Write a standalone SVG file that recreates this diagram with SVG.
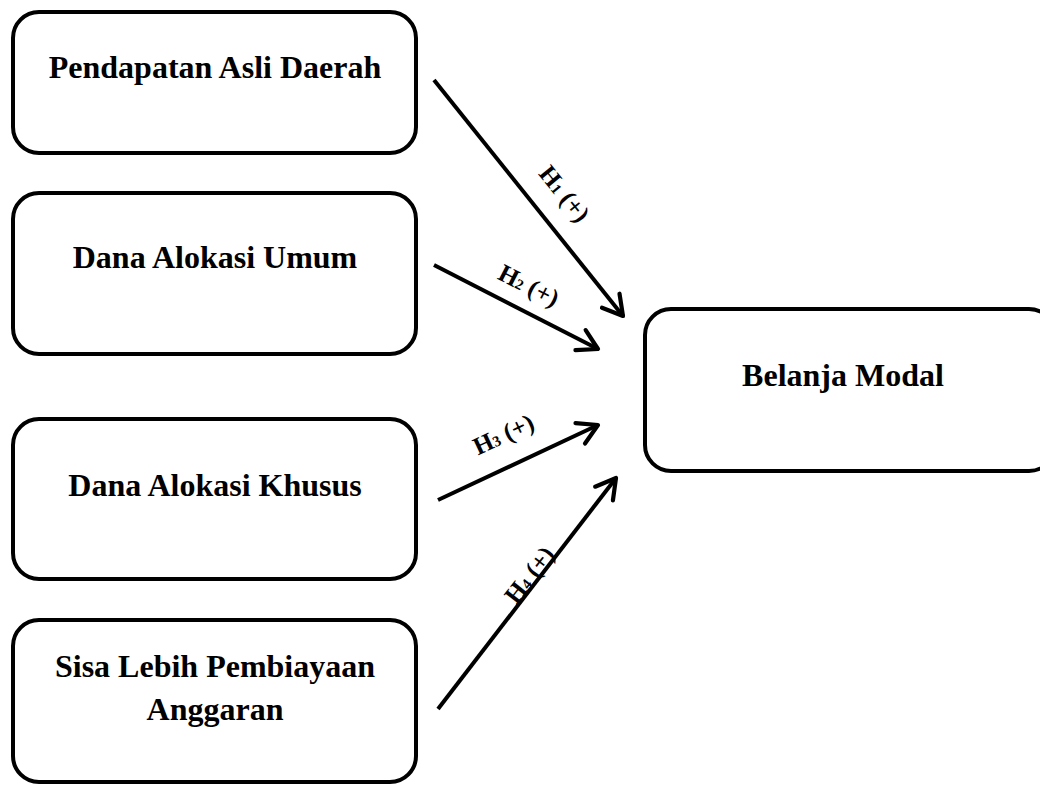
<svg xmlns="http://www.w3.org/2000/svg" width="1040" height="785" viewBox="0 0 1040 785">
<style>
.box{fill:#fff;stroke:#000;stroke-width:4}
.t{font-family:"Liberation Serif",serif;font-weight:bold;font-size:32px;text-anchor:middle;fill:#000}
.e{stroke:#000;stroke-width:4;fill:none;marker-end:url(#ah)}
.l{font-family:"Liberation Serif",serif;font-weight:bold;font-size:25px;text-anchor:middle;fill:#000}
</style>
<defs>
<marker id="ah" viewBox="0 0 20 20" refX="16" refY="10" markerWidth="7" markerHeight="7" orient="auto" markerUnits="strokeWidth">
<polyline points="2,2 16,10 2,18" fill="none" stroke="#000" stroke-width="3" stroke-linecap="round" stroke-linejoin="round"/>
</marker>
</defs>
<rect width="1040" height="785" fill="#fff"/>
<g id="n1"><rect class="box" x="13" y="12" width="403" height="141" rx="26"/><text class="t" x="215" y="78">Pendapatan Asli Daerah</text></g>
<g id="n2"><rect class="box" x="13" y="193" width="403" height="161" rx="26"/><text class="t" x="215" y="268">Dana Alokasi Umum</text></g>
<g id="n3"><rect class="box" x="13" y="419" width="403" height="160" rx="26"/><text class="t" x="215" y="496">Dana Alokasi Khusus</text></g>
<g id="n4"><rect class="box" x="13" y="620" width="403" height="162" rx="26"/><text class="t" x="215" y="677">Sisa Lebih Pembiayaan</text><text class="t" x="215" y="720">Anggaran</text></g>
<g id="n5"><rect class="box" x="645" y="309" width="410" height="162" rx="26"/><text class="t" x="843" y="386">Belanja Modal</text></g>
<g id="edges">
<line class="e" x1="434" y1="80" x2="623" y2="316"/>
<line class="e" x1="434" y1="265" x2="598" y2="349"/>
<line class="e" x1="438" y1="500" x2="598" y2="425"/>
<line class="e" x1="438" y1="709" x2="616" y2="478"/>
<text class="l" transform="translate(558,199) rotate(51)">H<tspan font-size="15">1</tspan> (+)</text>
<text class="l" transform="translate(525,293) rotate(27)">H<tspan font-size="15">2</tspan> (+)</text>
<text class="l" transform="translate(507,442) rotate(-25)">H<tspan font-size="15">3</tspan> (+)</text>
<text class="l" transform="translate(536,580) rotate(-52)">H<tspan font-size="15">4</tspan> (+)</text>
</g>
</svg>
